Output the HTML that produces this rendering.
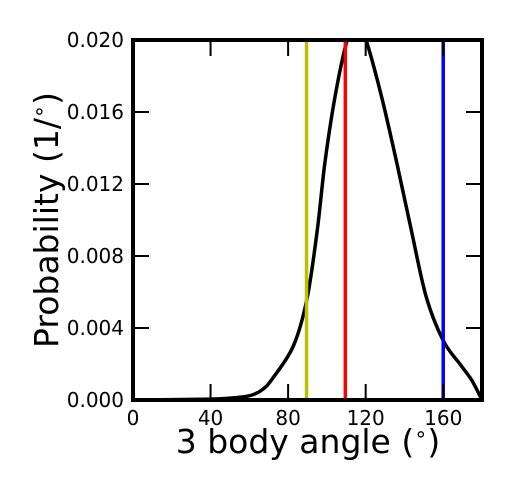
<!DOCTYPE html>
<html><head><meta charset="utf-8">
<style>
html,body{margin:0;padding:0;background:#fff;width:511px;height:493px;overflow:hidden}
text{font-family:"DejaVu Sans","Liberation Sans",sans-serif;fill:#000}
</style></head>
<body>
<svg id="chart" width="511" height="493" viewBox="0 0 511 493" xmlns="http://www.w3.org/2000/svg">
<defs><clipPath id="clip"><rect x="133" y="40" width="349" height="360"/></clipPath></defs>
<g id="plot" clip-path="url(#clip)"></g>
<g id="axes"></g>
<text x="308" y="453" font-size="33" text-anchor="middle">3 body angle (<tspan font-size="21" dy="-12">∘</tspan><tspan dy="12">)</tspan></text>
<text transform="translate(58,220) rotate(-90)" font-size="33" text-anchor="middle">Probability (1/<tspan font-size="21" dy="-12">∘</tspan><tspan dy="12">)</tspan></text>
</svg>
<script>
const angles = [0, 40, 55, 62, 67, 72, 82.7, 89.7, 95, 99, 104.2, 110.2, 115.5, 120.5, 128.2, 136, 143.6, 151.3, 160, 168.6, 174.7, 180];
const probs  = [0, 0.00005, 0.00015, 0.0003, 0.0006, 0.0012, 0.0030, 0.0056, 0.0094, 0.0132, 0.01685, 0.0199, 0.0212, 0.0199, 0.01685, 0.0132, 0.0094, 0.0057, 0.0033, 0.0020, 0.0011, 0];
const refAngles = [89.5, 109.5, 160];
const refColors = ["#bfbf00", "#ff0000", "#0000ff"];
const refNames = ["ref-line-90", "ref-line-109", "ref-line-160"];
const xTicks = [0, 40, 80, 120, 160];
const yTicks = [0, 0.004, 0.008, 0.012, 0.016, 0.020];
const yTickLabels = ["0.000", "0.004", "0.008", "0.012", "0.016", "0.020"];

const X0=133,X1=482,Y0=400,Y1=40;
const sx=v=>X0+(v-0)/(180-0)*(X1-X0);
const sy=v=>Y0-(v-0)/(0.020-0)*(Y0-Y1);
const NS="http://www.w3.org/2000/svg";
const plot=document.getElementById('plot'), axes=document.getElementById('axes');
function mk(t,a,p){const e=document.createElementNS(NS,t);for(const k in a)e.setAttribute(k,a[k]);p.appendChild(e);return e;}

const pts=angles.map((a,i)=>[sx(a),sy(probs[i])]);
let d=`M${pts[0][0]},${pts[0][1]}`;
for(let i=0;i<pts.length-1;i++){
  const p0=pts[Math.max(0,i-1)],p1=pts[i],p2=pts[i+1],p3=pts[Math.min(pts.length-1,i+2)];
  const c1=[p1[0]+(p2[0]-p0[0])/6,p1[1]+(p2[1]-p0[1])/6];
  const c2=[p2[0]-(p3[0]-p1[0])/6,p2[1]-(p3[1]-p1[1])/6];
  d+=` C${c1[0]},${c1[1]} ${c2[0]},${c2[1]} ${p2[0]},${p2[1]}`;
}
const curve=mk('path',{d:d,fill:'none',stroke:'#000','stroke-width':3.5},plot);



refAngles.forEach((a,i)=>{
  const l=mk('line',{x1:sx(a),x2:sx(a),y1:Y1,y2:Y0,stroke:refColors[i],'stroke-width':3.5},plot);
  
  
});

const fr=mk('rect',{x:X0,y:Y1,width:X1-X0,height:Y0-Y1,fill:'none',stroke:'#000','stroke-width':4},axes);



xTicks.forEach(v=>{
  const x=sx(v);
  mk('line',{x1:x,x2:x,y1:Y0,y2:Y0-16,stroke:'#000','stroke-width':2},axes);
  mk('line',{x1:x,x2:x,y1:Y1,y2:Y1+16,stroke:'#000','stroke-width':2},axes);
  const t=mk('text',{x:x,y:Y0+25,'font-size':20,'text-anchor':'middle'},axes);
  t.textContent=v;
  
  
});
yTicks.forEach((v,i)=>{
  const y=sy(v);
  mk('line',{x1:X0,x2:X0+16,y1:y,y2:y,stroke:'#000','stroke-width':2},axes);
  mk('line',{x1:X1,x2:X1-16,y1:y,y2:y,stroke:'#000','stroke-width':2},axes);
  const t=mk('text',{x:X0-9,y:y+7,'font-size':20,'text-anchor':'end'},axes);
  t.textContent=yTickLabels[i];
  
  
});
</script>
</body></html>
